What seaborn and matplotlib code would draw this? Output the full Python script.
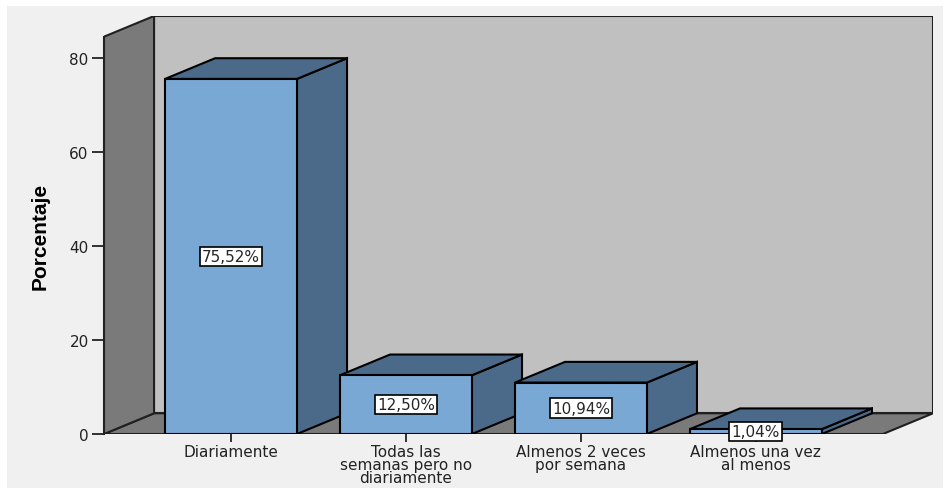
"""
Frecuencia de uso - grafico de barras estilo 3D
"""

import numpy as np
import pandas as pd
import matplotlib
matplotlib.use('Agg')
import matplotlib.pyplot as plt
from matplotlib.patches import Polygon, Rectangle
import seaborn as sns

categories = ['Diariamente', 'Todas las\nsemanas pero no\ndiariamente',
              'Almenos 2 veces\npor semana', 'Almenos una vez\nal menos']
values = [75.52, 12.50, 10.94, 1.04]
labels = ['75,52%', '12,50%', '10,94%', '1,04%']
yticks = [0, 20, 40, 60, 80]

FRONT = '#7aa8d5'
SIDE = '#4b6a89'
WALL = '#c0c0c0'
SIDE_WALL = '#7a7a7a'
BG = '#f0f0f0'

# depth of the 3D effect, in data units
DX, DY = 0.286, 4.4
XL, XR = -0.726, 3.726
WALL_TOP = 84.5

sns.set_style('white')
plt.rcParams['font.family'] = ['DejaVu Sans']

fig = plt.figure(figsize=(9.45, 4.89), dpi=100, facecolor='white')
fig.patches.append(Rectangle((7 / 945, 0), 936 / 945, 482 / 489, transform=fig.transFigure,
                             facecolor=BG, edgecolor='none', zorder=-10))
ax = fig.add_axes([104 / 945, 54 / 489, 829 / 945, 418 / 489])
ax.set_facecolor('none')

df = pd.DataFrame({'cat': categories, 'val': values})
sns.barplot(data=df, x='cat', y='val', color=FRONT, edgecolor='black', linewidth=1.5,
            width=0.754, saturation=1, ax=ax, zorder=5)

# walls and floor
ec = dict(edgecolor='#202020', linewidth=1.5, joinstyle='miter')
ax.add_patch(Polygon([(XL + DX, DY), (XR + DX, DY), (XR + DX, WALL_TOP + DY), (XL + DX, WALL_TOP + DY)],
                     facecolor=WALL, zorder=1, **ec))
ax.add_patch(Polygon([(XL, 0), (XR, 0), (XR + DX, DY), (XL + DX, DY)],
                     facecolor=SIDE_WALL, zorder=2, **ec))
ax.add_patch(Polygon([(XL, 0), (XL, WALL_TOP), (XL + DX, WALL_TOP + DY), (XL + DX, DY)],
                     facecolor=SIDE_WALL, zorder=2, **ec))

# 3D top and side faces from the bar rectangles
for i, bar in enumerate(ax.patches[:len(values)]):
    x0, w, h = bar.get_x(), bar.get_width(), bar.get_height()
    x1 = x0 + w
    ax.add_patch(Polygon([(x1, 0), (x1, h), (x1 + DX, h + DY), (x1 + DX, DY)],
                         facecolor=SIDE, edgecolor='black', linewidth=1.5, zorder=4))
    ax.add_patch(Polygon([(x0, h), (x1, h), (x1 + DX, h + DY), (x0 + DX, h + DY)],
                         facecolor=SIDE, edgecolor='black', linewidth=1.5, zorder=4))
    ax.text(x0 + w / 2, h / 2, labels[i], ha='center', va='center', fontsize=11, zorder=8,
            bbox=dict(boxstyle='square,pad=0.15', facecolor='white', edgecolor='black', linewidth=1.2))

ax.set_xlim(XL, XR + DX)
ax.set_ylim(0, WALL_TOP + DY)
ax.set_yticks(yticks)
ax.set_yticklabels([str(t) for t in yticks], fontsize=11, color='#222222')
ax.tick_params(axis='y', direction='out', length=9, width=1.3, color='#222222', pad=2, left=True)
ax.tick_params(axis='x', direction='out', length=6, width=1.3, color='#222222', pad=1, bottom=True)
ax.set_xticks(range(len(categories)))
ax.set_xticklabels(categories, fontsize=11, color='#222222', linespacing=0.85)
ax.set_xlabel('')
ax.set_ylabel('Porcentaje', fontsize=15, fontweight='bold', color='black',
              family=['Liberation Sans Narrow', 'Liberation Sans'])
ax.yaxis.set_label_coords(-0.066, 0.474)
for s in ['top', 'right', 'bottom']:
    ax.spines[s].set_visible(False)
ax.spines['left'].set_color('#222222')
ax.spines['left'].set_linewidth(1.5)
ax.spines['left'].set_bounds(0, WALL_TOP)

fig.savefig('out.png', dpi=100, facecolor=fig.get_facecolor())
